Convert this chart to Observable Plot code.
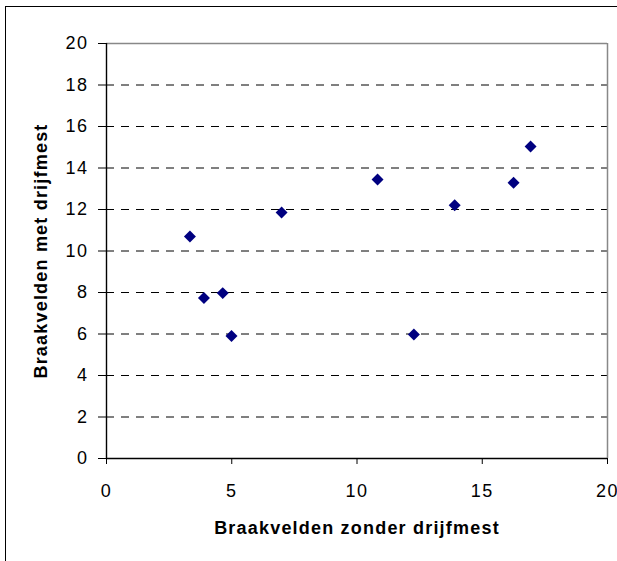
<!DOCTYPE html>
<html>
<head>
<meta charset="utf-8">
<script src="https://cdn.jsdelivr.net/npm/d3@7"></script>
<script src="https://cdn.jsdelivr.net/npm/@observablehq/plot@0.6"></script>
<style>
  html, body { margin: 0; padding: 0; background: white; overflow: hidden; }
  #wrap { position: relative; width: 617px; height: 561px; overflow: hidden; }
  #frame { position: absolute; left: 5px; top: 6px; width: 700px; height: 700px; border: 1.5px solid #000; pointer-events: none; }
</style>
</head>
<body>
<div id="wrap"><div id="frame"></div></div>
<script>
// Data
const zonderDrijfmest = [3.33, 3.89, 4.64, 4.99, 6.99, 10.82, 12.27, 13.90, 16.25, 16.93];
const metDrijfmest    = [10.70, 7.74, 7.97, 5.90, 11.86, 13.45, 5.98, 12.21, 13.29, 15.04];
const xTicks = [0, 5, 10, 15, 20];
const yTicks = [0, 2, 4, 6, 8, 10, 12, 14, 16, 18, 20];
const gridTicks = [2, 4, 6, 8, 10, 12, 14, 16, 18];
const xDomain = [0, 20];
const yDomain = [0, 20];
const xTitle = "Braakvelden zonder drijfmest";
const yTitle = "Braakvelden met drijfmest";

const points = zonderDrijfmest.map((x, i) => ({x, y: metDrijfmest[i]}));
const font = "'Liberation Sans', Arial, sans-serif";

const chart = Plot.plot({
  width: 617,
  height: 561,
  marginLeft: 106,
  marginRight: 10,
  marginTop: 43,
  marginBottom: 103,
  style: {fontFamily: font, fontSize: "18px", color: "#000", background: "transparent", overflow: "visible"},
  x: {domain: xDomain, ticks: xTicks},
  y: {domain: yDomain, ticks: yTicks},
  marks: [
    Plot.ruleY(gridTicks, {stroke: "#000", strokeWidth: 1, strokeDasharray: "8,7"}),
    Plot.ruleY([yDomain[1]], {stroke: "#888", strokeWidth: 1.5}),
    Plot.ruleX([xDomain[1]], {stroke: "#888", strokeWidth: 1.5}),
    Plot.ruleX([xDomain[0]], {stroke: "#000", strokeWidth: 1.4}),
    Plot.ruleY([yDomain[0]], {stroke: "#000", strokeWidth: 1.4}),
    Plot.axisY({ticks: yTicks, tickSize: 8, tickPadding: 10, tickFormat: d => String(d), fontSize: 18, label: null, stroke: "#000"}),
    Plot.axisX({ticks: xTicks, tickSize: 6, tickPadding: 20, tickFormat: d => String(d), fontSize: 18, label: null, stroke: "#000"}),
    Plot.dot(points, {x: "x", y: "y", symbol: "diamond2", r: 5.4, fill: "#000080", stroke: "none"}),
    Plot.text([xTitle], {text: d => d, frameAnchor: "bottom", textAnchor: "middle", dy: 75, lineAnchor: "bottom", fontSize: 18, fontWeight: "bold", fill: "#000"}),
    Plot.text([yTitle], {text: d => d, frameAnchor: "left", textAnchor: "middle", dx: -60, rotate: -90, lineAnchor: "bottom", fontSize: 18, fontWeight: "bold", fill: "#000"})
  ]
});
d3.select(chart).selectAll('g[aria-label="text"] text').style("letter-spacing", "1.2px");
d3.select(chart).selectAll('g[aria-label$="tick label"]').attr("font-size", 18).style("font-size", "18px");
d3.select(chart).selectAll('g[aria-label$="tick label"] text').style("letter-spacing", "1.5px");
document.getElementById("wrap").insertBefore(chart, document.getElementById("frame"));
</script>
</body>
</html>
